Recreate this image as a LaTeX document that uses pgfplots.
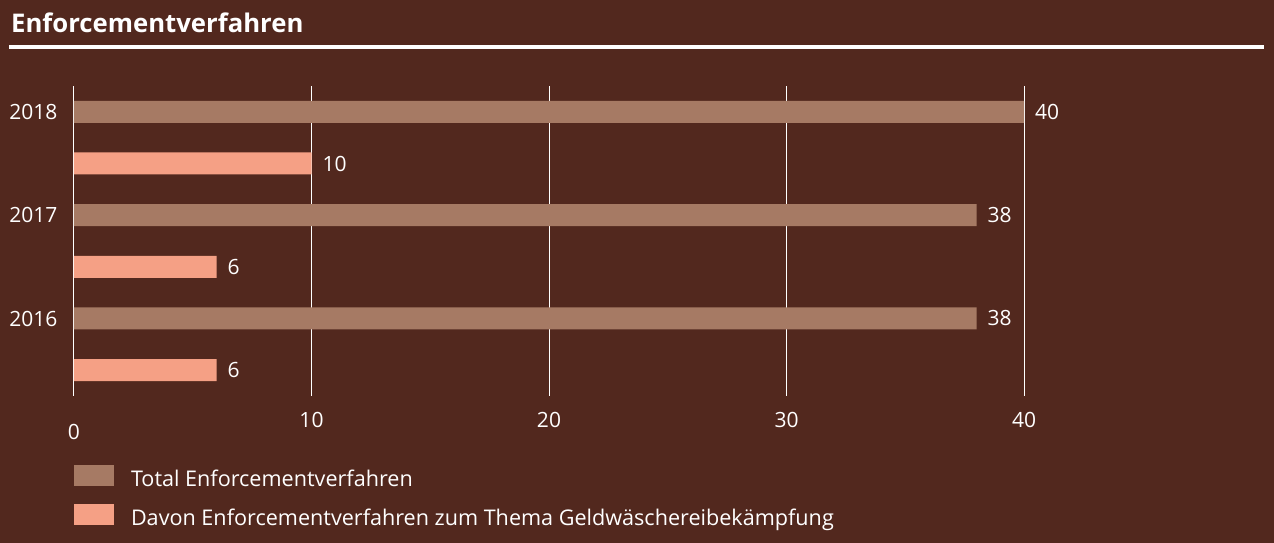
\documentclass[border=0pt]{standalone}
\usepackage{fontspec}
\setmainfont{Open Sans}
\usepackage{pgfplots}
\pgfplotsset{compat=1.18}

\definecolor{bg}{HTML}{52281E}
\definecolor{totalc}{HTML}{A67A64}
\definecolor{davonc}{HTML}{F5A085}

\newcommand{\lblfont}{\fontsize{21}{25}\selectfont}
\newcommand{\legfont}{\fontsize{21.6}{26}\selectfont}

\begin{document}
\begin{tikzpicture}[x=1pt,y=1pt]
  \fill[bg] (0,0) rectangle (1274,543);
  \useasboundingbox (0,0) rectangle (1274,543);

  % title and rule
  \node[anchor=base west, inner sep=0pt, text=white,
        font=\fontsize{25.7}{30}\selectfont\bfseries] at (11,510.3) {Enforcementverfahren};
  \draw[white, line width=3.7pt] (9,496.2) -- (1264,496.2);

  \begin{axis}[
    at={(74pt,147pt)}, anchor=south west,
    width=950pt, height=310pt, scale only axis,
    clip=false,
    xmin=0, xmax=40, ymin=0, ymax=6,
    /pgf/number format/assume math mode=true,
    axis line style={draw=none},
    major tick style={draw=none},
    xtick={0,10,20,30,40},
    xticklabels={\raisebox{-11.6pt}{0},10,20,30,40},
    ytick={1.5,3.5,5.5},
    yticklabels={2016,2017,2018},
    xmajorgrids,
    grid style={white, line width=1pt},
    ticklabel style={text=white, font=\lblfont, inner sep=0pt},
    xticklabel style={anchor=base, yshift=-31.7pt},
    yticklabel style={anchor=east, xshift=-16.5pt},
    every node near coord/.append style={text=white, font=\lblfont,
      anchor=west, inner sep=0pt, xshift=11pt},
    legend cell align=left,
    legend image code/.code={\fill[#1] (0pt,-10.5pt) rectangle (40pt,10.5pt);},
    legend style={at={(rel axis cs:0,-0.2226)}, anchor=north west,
      draw=none, fill=none, inner sep=0pt, outer sep=0pt,
      text=white, font=\legfont, row sep=18pt,
      nodes={inner sep=0pt, anchor=west, text height=21pt, text depth=0pt},
      /tikz/every odd column/.append style={column sep=17pt}},
  ]
    \addplot[xbar, bar width=22pt, bar shift=0pt, fill=totalc, draw=none,
             nodes near coords]
      coordinates {(38,1.5) (38,3.5) (40,5.5)};
    \addlegendentry{Total Enforcementverfahren}

    \addplot[xbar, bar width=22pt, bar shift=0pt, fill=davonc, draw=none,
             nodes near coords]
      coordinates {(6,0.5) (6,2.5) (10,4.5)};
    \addlegendentry{Davon Enforcementverfahren zum Thema Geldwäschereibekämpfung}
  \end{axis}
\end{tikzpicture}
\end{document}
